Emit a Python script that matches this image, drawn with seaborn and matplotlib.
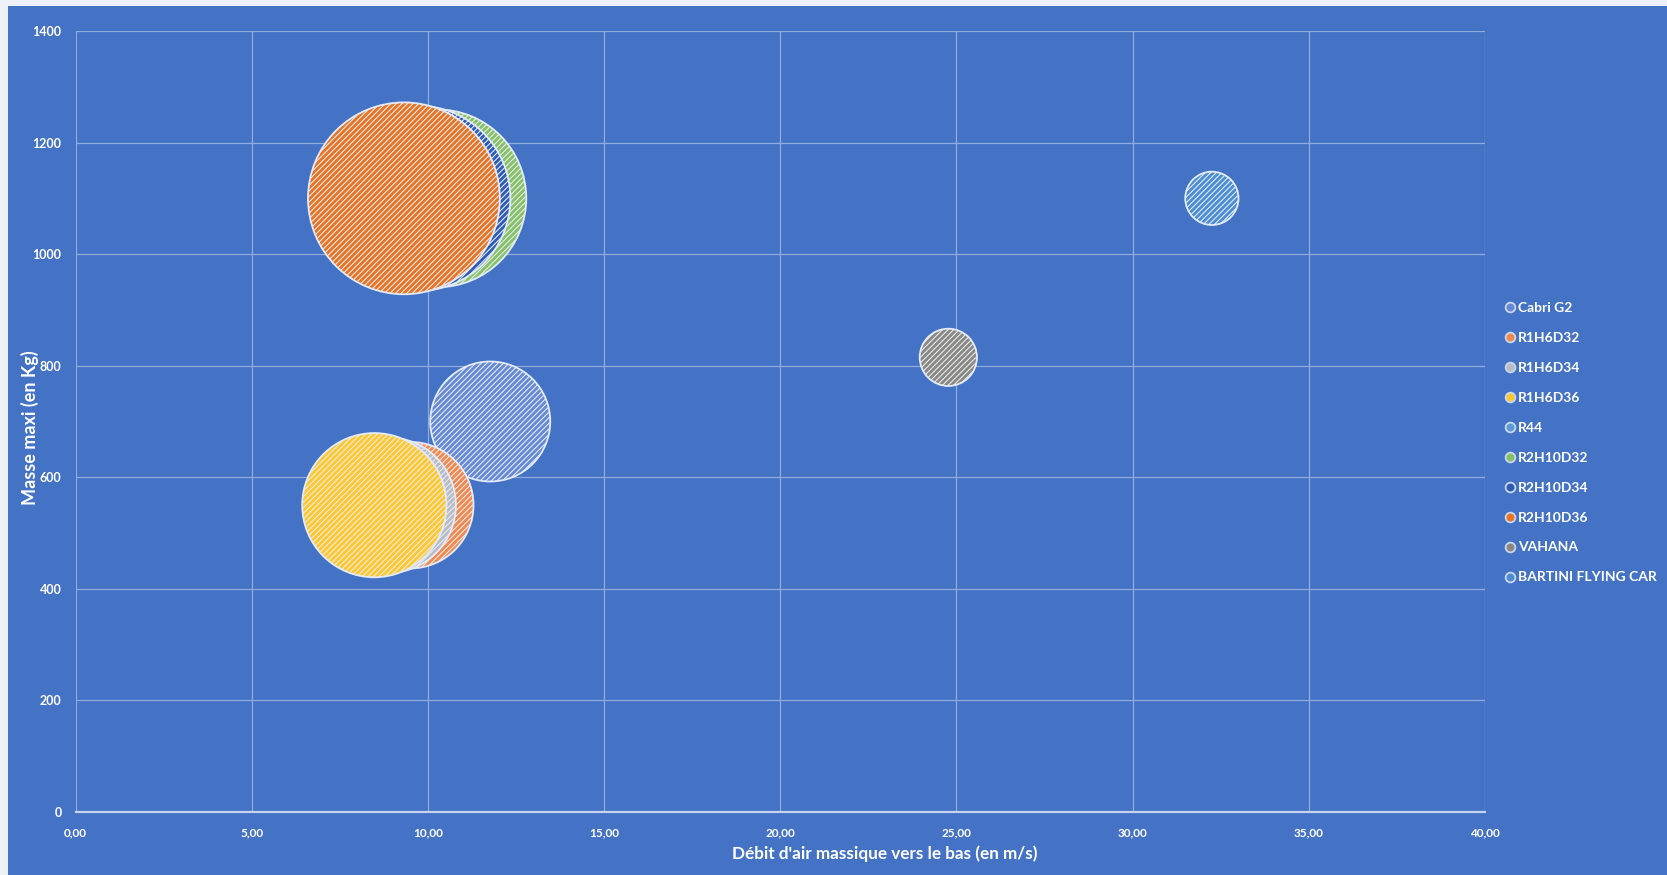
import matplotlib
matplotlib.use("Agg")
import matplotlib.pyplot as plt
from matplotlib.lines import Line2D
from matplotlib.patches import Rectangle
from matplotlib.ticker import FuncFormatter, MultipleLocator
import seaborn as sns
import pandas as pd

# Appareils comparés
appareils = ["Cabri G2", "R1H6D32", "R1H6D34", "R1H6D36", "R44",
             "R2H10D32", "R2H10D34", "R2H10D36", "VAHANA", "BARTINI FLYING CAR"]
# Débit d'air massique vers le bas (m/s)
debit_air = [11.77, 9.50, 8.87, 8.48, 9.30, 10.27, 9.71, 9.32, 24.77, 32.25]
# Masse maxi (kg)
masse_maxi = [700, 550, 550, 550, 1100, 1100, 1100, 1100, 815, 1100]
# Taille des bulles
taille_bulle = [36, 40, 46, 52, 40, 79, 86, 92, 8.2, 7.1]
# Couleurs des séries
couleurs = ["#6589D2", "#F2884A", "#B9BCC2", "#FFC82A", "#5B9BD5",
            "#86C163", "#2E5BB5", "#E9731F", "#8A8880", "#4A8DD3"]

x_ticks_max = 40
y_ticks_max = 1400

df = pd.DataFrame({"appareil": appareils, "debit": debit_air,
                   "masse": masse_maxi, "taille": taille_bulle})
palette = dict(zip(appareils, couleurs))

sns.set_theme(style="white")
plt.rcParams["font.family"] = ["Lato", "DejaVu Sans"]
plt.rcParams["hatch.color"] = (0.93, 0.95, 1.0, 0.22)
plt.rcParams["hatch.linewidth"] = 0.8

BLEU = "#4472C4"
fig = plt.figure(figsize=(16.67, 8.75), dpi=100, facecolor="#EEF2F8")
fig.patches.append(Rectangle((0.0048, 0), 1, 0.9931, transform=fig.transFigure,
                             facecolor=BLEU, edgecolor="none", zorder=-10))
ax = fig.add_axes([0.0453, 0.072, 0.8455, 0.8926])
ax.set_facecolor(BLEU)

sns.scatterplot(data=df, x="debit", y="masse", hue="appareil", palette=palette,
                size="taille", sizes=(0, 20736), size_norm=(0, 100),
                hatch="//////", edgecolor="#E4EBF7", linewidth=1.3,
                legend=False, ax=ax, zorder=3)

ax.set_xlim(0, x_ticks_max)
ax.set_ylim(0, y_ticks_max)
ax.xaxis.set_major_locator(MultipleLocator(5))
ax.yaxis.set_major_locator(MultipleLocator(200))
ax.xaxis.set_major_formatter(FuncFormatter(lambda v, p: f"{v:.2f}".replace(".", ",")))
ax.yaxis.set_major_formatter(FuncFormatter(lambda v, p: f"{v:.0f}"))
ax.grid(True, color="#8FABDF", linewidth=0.9, zorder=0)
ax.set_axisbelow(True)
for side in ["top", "right", "left"]:
    ax.spines[side].set_visible(False)
ax.spines["bottom"].set_color("#C4D3EF")
ax.spines["bottom"].set_linewidth(1.6)
ax.tick_params(axis="both", length=0, colors="white")
ax.tick_params(axis="x", pad=11, labelsize=8.5)
ax.tick_params(axis="y", pad=10, labelsize=9)
for lab in ax.get_xticklabels() + ax.get_yticklabels():
    lab.set_fontweight("bold")

ax.set_xlabel("")
ax.set_ylabel("")
fig.text(0.531, 0.024, "Débit d'air massique vers le bas (en m/s)", color="white",
         fontsize=12.3, fontweight="bold", ha="center", va="center")
fig.text(0.018, 0.511, "Masse maxi (en Kg)", color="white", fontsize=13,
         fontweight="bold", rotation=90, ha="center", va="center")

handles = [Line2D([], [], marker="o", linestyle="", markersize=7,
                  markerfacecolor=c, markeredgecolor="#C9D6EE", markeredgewidth=1.3)
           for c in couleurs]
leg = fig.legend(handles, appareils, loc="center left", bbox_to_anchor=(0.899, 0.494),
                 bbox_transform=fig.transFigure, frameon=False, handlelength=0.6,
                 handletextpad=0.3, labelspacing=1.29, borderpad=0,
                 prop={"weight": "bold", "size": 10})
for t in leg.get_texts():
    t.set_color("white")

fig.savefig("out.png", dpi=100, facecolor=fig.get_facecolor())
